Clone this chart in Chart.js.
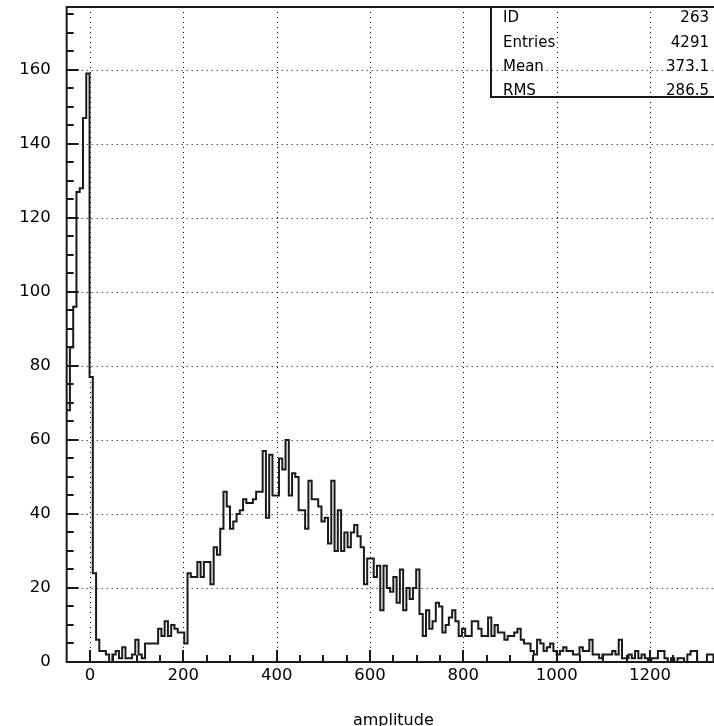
<!DOCTYPE html>
<html><head><meta charset="utf-8">
<script src="https://cdn.jsdelivr.net/npm/chart.js@4.4.1/dist/chart.umd.min.js"></script>
<style>html,body{margin:0;padding:0;background:#fff;overflow:hidden;width:714px;height:726px}canvas{display:block}</style>
</head><body>
<canvas id="c" width="740" height="726"></canvas>
<script>
// ---- data ----
const xMin = -50, xMax = 1350, nBins = 200;
const counts = [
  68, 85, 96,127,128,147,159, 77, 24,  6,
   3,  3,  2,  0,  2,  3,  1,  4,  1,  1,
   2,  6,  2,  1,  5,  5,  5,  5,  9,  7,
  11,  7, 10,  9,  8,  8,  5, 24, 23, 23,
  27, 23, 27, 27, 21, 31, 29, 36, 46, 42,
  36, 38, 40, 41, 44, 43, 43, 44, 46, 46,
  57, 39, 56, 45, 45, 55, 52, 60, 45, 51,
  50, 41, 41, 36, 49, 44, 44, 42, 38, 39,
  32, 49, 30, 41, 30, 35, 31, 35, 37, 34,
  31, 21, 28, 28, 23, 26, 14, 26, 20, 19,
  23, 16, 25, 14, 20, 17, 20, 25, 13,  7,
  14,  9, 11, 16, 15,  8, 10, 12, 14, 11,
   7,  9,  7,  7, 11, 11,  9,  7,  7, 12,
   7, 10,  8,  8,  6,  7,  7,  8,  9,  6,
   5,  5,  3,  2,  6,  5,  3,  4,  5,  3,
   2,  3,  4,  3,  3,  2,  2,  4,  3,  3,
   6,  2,  2,  1,  2,  2,  2,  3,  2,  6,
   1,  1,  2,  1,  3,  1,  2,  1,  0,  1,
   1,  3,  3,  1,  0,  1,  0,  1,  1,  0,
   2,  3,  3,  0,  0,  0,  2,  2,  0,  1
];
const yMin = 0, yMax = 177;
const xTicks = [0, 200, 400, 600, 800, 1000, 1200];
const yTicks = [0, 20, 40, 60, 80, 100, 120, 140, 160];
const xMinorStep = 50, yMinorStep = 5;
const xTitle = 'amplitude';
const statLabels = ['ID', 'Entries', 'Mean', 'RMS'];
const statValues = ['263', '4291', '373.1', '286.5'];

// ---- build step outline from bins ----
const binW = (xMax - xMin) / nBins;
const points = counts.map((c, i) => ({x: xMin + i * binW, y: c}));
points.push({x: xMax, y: counts[counts.length - 1]});

const FONT = "'DejaVu Sans', sans-serif";
const INK = '#1a1a1a';

const framePlugin = {
  id: 'frame',
  beforeDatasetsDraw(chart) {
    const {ctx, chartArea: a, scales: {x, y}} = chart;
    ctx.save();
    ctx.strokeStyle = '#000';
    ctx.lineWidth = 1;
    ctx.setLineDash([1, 4]);
    xTicks.forEach(v => {
      const px = Math.round(x.getPixelForValue(v)) + 0.5;
      ctx.beginPath(); ctx.moveTo(px, a.top); ctx.lineTo(px, a.bottom); ctx.stroke();
    });
    yTicks.forEach(v => {
      if (v === yMin) return;
      const py = Math.round(y.getPixelForValue(v)) + 0.5;
      ctx.beginPath(); ctx.moveTo(a.left, py); ctx.lineTo(a.right, py); ctx.stroke();
    });
    ctx.restore();
  },
  afterDatasetsDraw(chart) {
    const {ctx, chartArea: a, scales: {x, y}} = chart;
    ctx.save();
    ctx.strokeStyle = INK;
    ctx.lineWidth = 2;
    ctx.setLineDash([]);
    ctx.strokeRect(a.left, a.top, a.right - a.left, a.bottom - a.top);
    ctx.beginPath();
    for (let v = 0; v <= xMax; v += xMinorStep) {
      const px = Math.round(x.getPixelForValue(v));
      const len = xTicks.includes(v) ? 12 : 7;
      ctx.moveTo(px, a.bottom); ctx.lineTo(px, a.bottom - len);
    }
    for (let v = yMin; v <= yMax; v += yMinorStep) {
      const py = Math.round(y.getPixelForValue(v));
      const len = yTicks.includes(v) ? 12 : 7;
      ctx.moveTo(a.left, py); ctx.lineTo(a.left + len, py);
    }
    ctx.stroke();
    // stats box
    const bx = 491, by = a.top, bb = 97;
    ctx.strokeRect(bx, by, a.right + 10 - bx, bb - by);
    ctx.fillStyle = '#000';
    ctx.font = '15px ' + FONT;
    ctx.textBaseline = 'middle';
    statLabels.forEach((t, i) => {
      const cy = 18.5 + 24.3 * i;
      ctx.textAlign = 'left';
      ctx.fillText(t, 503, cy);
      ctx.textAlign = 'right';
      ctx.fillText(statValues[i], 709, cy);
    });
    ctx.restore();
  }
};

const zeroPad = s => { s.paddingTop = 0; s.paddingBottom = 0; s.paddingLeft = 0; s.paddingRight = 0; };

new Chart(document.getElementById('c'), {
  type: 'line',
  data: {
    datasets: [{
      data: points,
      stepped: true,
      borderColor: INK,
      borderWidth: 2,
      pointRadius: 0,
      fill: false,
      tension: 0
    }]
  },
  options: {
    responsive: false,
    animation: false,
    layout: {padding: {left: 0, top: 7, right: 20, bottom: 0}},
    plugins: {legend: {display: false}, tooltip: {enabled: false}},
    scales: {
      x: {
        type: 'linear', min: xMin, max: xMax,
        afterBuildTicks: s => { s.ticks = xTicks.map(v => ({value: v})); },
        afterFit: s => { s.height = 64; zeroPad(s); },
        grid: {display: false, drawTicks: false, tickLength: 0},
        border: {display: false},
        ticks: {color: '#000', padding: 4, maxRotation: 0, font: {family: FONT, size: 16.5},
                callback: v => String(v)},
        title: {display: true, text: xTitle, color: '#000', padding: {top: 0, bottom: -3},
                font: {family: FONT, size: 16, lineHeight: 1.0}}
      },
      y: {
        type: 'linear', min: yMin, max: yMax,
        afterBuildTicks: s => { s.ticks = yTicks.map(v => ({value: v})); },
        afterFit: s => { s.width = 66.67; zeroPad(s); },
        grid: {display: false, drawTicks: false, tickLength: 0},
        border: {display: false},
        ticks: {color: '#000', padding: 16, font: {family: FONT, size: 16.5},
                callback: v => String(v)}
      }
    }
  },
  plugins: [framePlugin]
});
</script>
</body></html>
